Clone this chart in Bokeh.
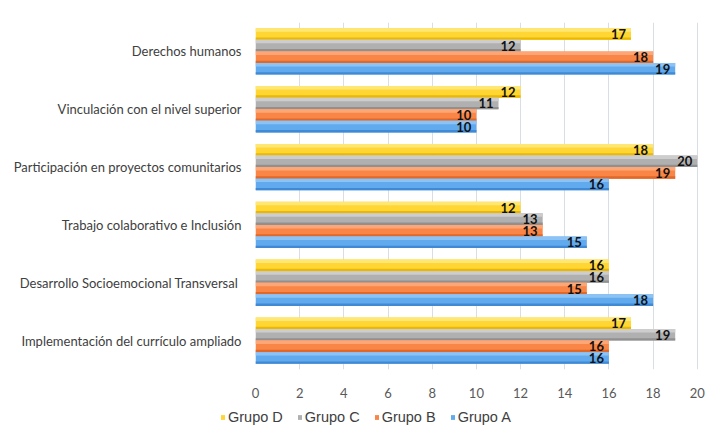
from bokeh.plotting import figure
from bokeh.layouts import column, row
from bokeh.models import ColumnDataSource, FactorRange, Range1d, Legend, LegendItem, FixedTicker
from bokeh.transform import dodge
from bokeh.core.properties import value
from bokeh.embed import file_html
from bokeh.resources import INLINE

# Categories, top to bottom
categories = [
    "Derechos humanos",
    "Vinculación con el nivel superior",
    "Participación en proyectos comunitarios",
    "Trabajo colaborativo e Inclusión",
    "Desarrollo Socioemocional Transversal ",
    "Implementación del currículo ampliado",
]
grupo_d = [17, 12, 18, 12, 16, 17]
grupo_c = [12, 11, 20, 13, 16, 19]
grupo_b = [18, 10, 19, 13, 15, 16]
grupo_a = [19, 10, 16, 15, 18, 16]
series_names = ["Grupo D", "Grupo C", "Grupo B", "Grupo A"]
x_ticks = [0, 2, 4, 6, 8, 10, 12, 14, 16, 18, 20]

series_vals = [grupo_d, grupo_c, grupo_b, grupo_a]
offsets = [0.3, 0.1, -0.1, -0.3]
base_colors = ["#FFD633", "#B0B0B0", "#F98646", "#62AAEE"]
light_colors = ["#FFE775", "#CDCDCD", "#FFA676", "#8DC3F4"]
dark_colors = ["#EBB700", "#909090", "#E0692A", "#4089D4"]

p = figure(
    width=715, height=400,
    y_range=FactorRange(factors=categories[::-1], range_padding=0),
    x_range=Range1d(0, 20.1),
    output_backend="svg", toolbar_location=None,
    min_border_left=255, min_border_right=16, min_border_top=22, min_border_bottom=31,
)
p.outline_line_color = None
p.background_fill_color = "white"
p.border_fill_color = "white"

# small companion figure that only carries the legend
lg = figure(
    width=715, height=35, x_range=Range1d(0, 1), y_range=FactorRange(factors=categories[::-1]),
    output_backend="svg", toolbar_location=None,
    min_border_left=0, min_border_right=0, min_border_top=0, min_border_bottom=0,
)
lg.axis.visible = False
lg.grid.visible = False
lg.outline_line_color = None
lg.border_fill_color = "white"

legend_items = []
for name, vals, off, bc, lc, dc in zip(series_names, series_vals, offsets, base_colors, light_colors, dark_colors):
    src = ColumnDataSource(dict(cat=categories, v=vals, lbl=[str(v) for v in vals]))
    p.hbar(y=dodge("cat", off, range=p.y_range), right="v", left=0, height=0.2,
           fill_color=bc, line_color=None, source=src)
    p.hbar(y=dodge("cat", off + 0.07, range=p.y_range), right="v", left=0, height=0.06,
           fill_color=lc, line_color=None, source=src)
    p.hbar(y=dodge("cat", off - 0.08, range=p.y_range), right="v", left=0, height=0.04,
           fill_color=dc, line_color=None, source=src)
    p.text(x="v", y=dodge("cat", off, range=p.y_range), text="lbl", source=src,
           text_align="right", text_baseline="middle", x_offset=-5,
           text_font=value("Lato"), text_font_style="bold", text_font_size="13px",
           text_color="#111111")
    r = lg.hbar(y=dodge("cat", off, range=lg.y_range), right="v", left=0, height=0.2,
                fill_color=bc, line_color=None, source=src, visible=False)
    legend_items.append(LegendItem(label=name, renderers=[r]))

p.xgrid.ticker = FixedTicker(ticks=x_ticks)
p.xgrid.grid_line_color = "#d9dde6"
p.ygrid.grid_line_color = None

p.xaxis.ticker = FixedTicker(ticks=x_ticks)
p.xaxis.axis_line_color = None
p.xaxis.major_tick_line_color = None
p.xaxis.minor_tick_line_color = None
p.xaxis.major_label_standoff = 12
p.xaxis.major_label_text_font = "Lato"
p.xaxis.major_label_text_font_size = "13px"
p.xaxis.major_label_text_color = "#595959"

p.yaxis.axis_line_color = None
p.yaxis.major_tick_line_color = None
p.yaxis.minor_tick_line_color = None
p.yaxis.major_label_standoff = 8
p.yaxis.major_label_text_font = "Lato"
p.yaxis.major_label_text_font_size = "13px"
p.yaxis.major_label_text_color = "#404040"

legend = Legend(items=legend_items, orientation="horizontal", location=(220, 10))
legend.glyph_width = 5
legend.glyph_height = 6
legend.label_standoff = 3
legend.spacing = 14
legend.padding = 0
legend.margin = 0
legend.border_line_color = None
legend.background_fill_alpha = 0
legend.inactive_fill_alpha = 0
legend.label_text_font = "Liberation Sans"
legend.label_text_font_size = "14.5px"
legend.label_text_color = "#404040"
lg.add_layout(legend)

layout = column(p, row(lg), spacing=0)
open("out.html", "w").write(file_html(layout, INLINE))
